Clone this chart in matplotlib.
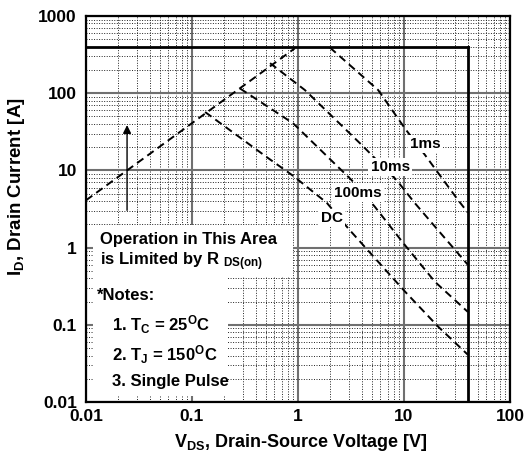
import matplotlib
matplotlib.use("Agg")
import matplotlib.pyplot as plt
from matplotlib.patches import Rectangle
from matplotlib.ticker import FixedLocator, FixedFormatter, LogLocator, NullFormatter

plt.rcParams['font.family'] = ['Liberation Sans', 'DejaVu Sans']
plt.rcParams['font.weight'] = 'bold'
plt.rcParams['mathtext.fontset'] = 'custom'
plt.rcParams['mathtext.rm'] = 'Liberation Sans:bold'
plt.rcParams['mathtext.bf'] = 'Liberation Sans:bold'
plt.rcParams['mathtext.it'] = 'Liberation Sans:bold'

# ---- data ----
x_ticks = [0.01, 0.1, 1, 10, 100]
x_tick_labels = ["0.01", "0.1", "1", "10", "100"]
y_ticks = [0.01, 0.1, 1, 10, 100, 1000]
y_tick_labels = ["0.01", "0.1", "1", "10", "100", "1000"]

rds_v = [0.01, 0.93]
rds_i = [4.1, 380]

ms1_v = [2.0, 5.7, 10.2, 15.8, 32.3, 40]
ms1_i = [390, 110, 35, 15.8, 4.14, 2.85]

ms10_v = [0.545, 1.16, 4.0, 8.5, 12.7, 19.6, 40]
ms10_i = [245, 110, 21.3, 7.5, 3.75, 1.87, 0.6]

ms100_v = [0.284, 0.9, 3.2, 5.3, 9.87, 19.6, 40]
ms100_i = [115, 40.7, 7.5, 3.39, 1.14, 0.36, 0.147]

dc_v = [0.133, 0.52, 0.9, 1.87, 3.0, 10.2, 21.1, 40]
dc_i = [57, 14.5, 8.5, 3.8, 1.75, 0.27, 0.094, 0.041]

id_max = 400          # current limit [A]
vds_max = 40          # voltage limit [V]
arrow_v = 0.0244
arrow_i = [2.8, 42]

curve_labels = ["1ms", "10ms", "100ms", "DC"]
label_pos_v = [15.8, 7.4, 3.7, 2.1]
label_pos_i = [22, 11, 5.1, 2.4]

# ---- figure ----
fig = plt.figure(figsize=(5.26, 4.57), dpi=100)
ax = fig.add_axes([86/526, 1-402/457, (510-86)/526, (402-16)/457])
ax.set_xscale('log')
ax.set_yscale('log')
ax.set_xlim(0.01, 100)
ax.set_ylim(0.01, 1000)
ax.set_axisbelow(True)

ax.xaxis.set_major_locator(FixedLocator(x_ticks))
ax.xaxis.set_major_formatter(FixedFormatter(x_tick_labels))
ax.yaxis.set_major_locator(FixedLocator(y_ticks))
ax.yaxis.set_major_formatter(FixedFormatter(y_tick_labels))
ax.xaxis.set_minor_locator(LogLocator(base=10, subs=range(2, 10), numticks=20))
ax.yaxis.set_minor_locator(LogLocator(base=10, subs=range(2, 10), numticks=20))
ax.xaxis.set_minor_formatter(NullFormatter())
ax.yaxis.set_minor_formatter(NullFormatter())

ax.grid(which='major', color='#707070', linewidth=1.5, linestyle='-')
ax.grid(which='minor', color='#222222', linewidth=0.7, linestyle=(0, (1, 1.6)))
ax.tick_params(which='both', length=0, labelsize=12.5)
ax.tick_params(axis='x', pad=5)
ax.tick_params(axis='y', pad=6.5)
for lab in ax.get_xticklabels() + ax.get_yticklabels():
    lab.set_fontweight('bold')
for s in ax.spines.values():
    s.set_linewidth(1.6)
    s.set_color('black')
    s.set_zorder(5)

# white boxes behind annotations
ax.add_patch(Rectangle((0.016, 0.324), 0.472, 0.135, transform=ax.transAxes,
                       facecolor='white', edgecolor='none', zorder=1))
ax.add_patch(Rectangle((0.016, 0.016), 0.319, 0.31, transform=ax.transAxes,
                       facecolor='white', edgecolor='none', zorder=1))

# limits
ax.plot([0.01, vds_max], [id_max, id_max], color='black', lw=2.0, zorder=3)
ax.plot([vds_max, vds_max], [id_max, 0.01], color='black', lw=2.0, zorder=3)

dash = (0, (4, 2.5))
for v, i in [(rds_v, rds_i), (ms1_v, ms1_i), (ms10_v, ms10_i),
             (ms100_v, ms100_i), (dc_v, dc_i)]:
    ax.plot(v, i, color='black', lw=1.4, linestyle=dash, zorder=3)

ax.annotate('', xy=(arrow_v, arrow_i[1]), xytext=(arrow_v, arrow_i[0]),
            arrowprops=dict(arrowstyle='-|>', color='black', lw=1.0,
                            mutation_scale=12), zorder=4)

for t, v, i in zip(curve_labels, label_pos_v, label_pos_i):
    ax.text(v, i, t, ha='center', va='center', fontsize=11, fontweight='bold',
            bbox=dict(facecolor='white', edgecolor='none', pad=1.5), zorder=4)

fs = 12
ax.text(0.033, 0.42, "Operation in This Area", transform=ax.transAxes,
        fontsize=fs, fontweight='bold', va='center', ha='left', zorder=4)
ax.text(0.033, 0.363, r"is Limited by R $_\mathrm{DS(on)}$", transform=ax.transAxes,
        fontsize=fs, fontweight='bold', va='center', ha='left', zorder=4)
ax.text(0.026, 0.277, "*Notes:", transform=ax.transAxes,
        fontsize=fs, fontweight='bold', va='center', ha='left', zorder=4)
ax.text(0.061, 0.200, r"1. T$_\mathrm{C}$ = 25$^\mathrm{O}$C", transform=ax.transAxes,
        fontsize=fs, fontweight='bold', va='center', ha='left', zorder=4)
ax.text(0.061, 0.122, r"2. T$_\mathrm{J}$ = 150$^\mathrm{O}$C", transform=ax.transAxes,
        fontsize=fs, fontweight='bold', va='center', ha='left', zorder=4)
ax.text(0.061, 0.052, "3. Single Pulse", transform=ax.transAxes,
        fontsize=fs, fontweight='bold', va='center', ha='left', zorder=4)

ax.set_xlabel(r"V$_\mathrm{DS}$, Drain-Source Voltage [V]", fontsize=13,
              fontweight='bold')
ax.set_ylabel(r"I$_\mathrm{D}$, Drain Current [A]", fontsize=13.5,
              fontweight='bold')
ax.xaxis.set_label_coords(0.505, -0.077)
ax.xaxis.label.set_va('top')
ax.yaxis.set_label_coords(-0.139, 0.558)

fig.savefig("out.png", dpi=100)
